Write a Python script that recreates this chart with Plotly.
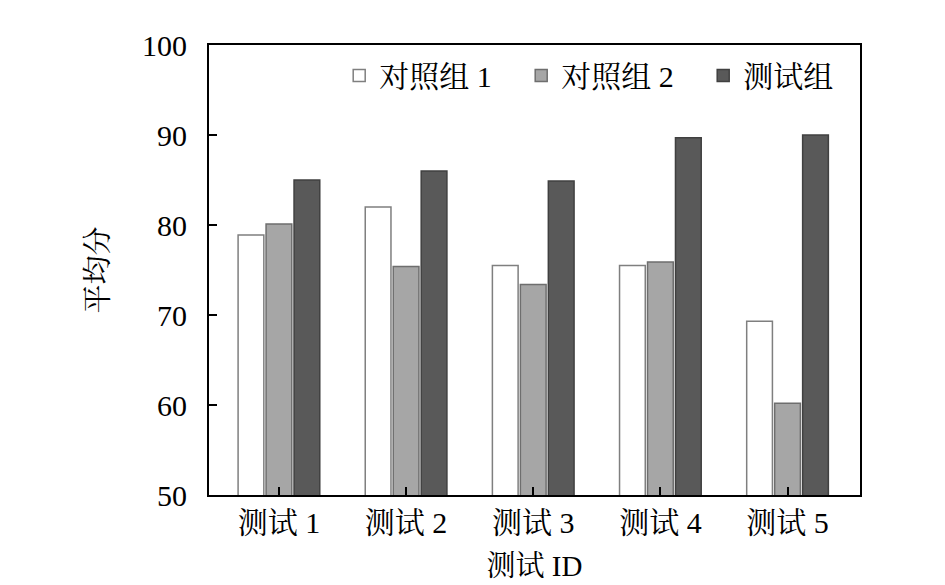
import plotly.graph_objects as go

# data
categories = ["测试 1", "测试 2", "测试 3", "测试 4", "测试 5"]
control_1 = [78.9, 82.0, 75.5, 75.5, 69.3]
control_2 = [80.1, 75.4, 73.4, 75.9, 60.2]
test_group = [85.0, 86.0, 84.9, 89.7, 90.0]

font_family = "Liberation Serif, Noto Serif CJK SC, Noto Sans CJK SC, serif"

fig = go.Figure()
fig.add_trace(go.Bar(name="对照组 1", x=categories, y=control_1,
                     marker=dict(color="#ffffff", line=dict(color="#7f7f7f", width=1.5))))
fig.add_trace(go.Bar(name="对照组 2", x=categories, y=control_2,
                     marker=dict(color="#a6a6a6", line=dict(color="#6e6e6e", width=1.5))))
fig.add_trace(go.Bar(name="测试组", x=categories, y=test_group,
                     marker=dict(color="#595959", line=dict(color="#404040", width=1.5))))

# page has an 8px body margin, so margins are shifted to keep the plot box in place
fig.update_layout(
    width=945, height=585,
    margin=dict(l=201, r=93, t=37, b=98),
    plot_bgcolor="white", paper_bgcolor="white",
    font=dict(family=font_family, size=29, color="black"),
    barmode="group", bargap=0.34, bargroupgap=0.08,
    legend=dict(orientation="h", x=0.2, xanchor="left", y=0.99, yanchor="top",
                bgcolor="rgba(0,0,0,0)", font=dict(size=30), itemwidth=30,
                entrywidth=137, entrywidthmode="pixels", tracegroupgap=0),
)
fig.update_xaxes(
    range=[-0.55, 4.57], showline=True, linecolor="black", linewidth=2, mirror=True,
    ticks="inside", ticklen=8, tickwidth=2, tickcolor="black",
    tickfont=dict(size=30),
    title=dict(text="测试 ID", standoff=18, font=dict(size=29)), showgrid=False,
)
fig.update_yaxes(
    range=[50, 100], dtick=10, showline=True, linecolor="black", linewidth=2, mirror=True,
    ticks="inside", ticklen=8, tickwidth=2, tickcolor="black",
    tickfont=dict(size=30), ticklabelstandoff=14,
    title=dict(text="平均分", standoff=25, font=dict(size=29)), showgrid=False, zeroline=False,
)

fig.write_html("out.html")
